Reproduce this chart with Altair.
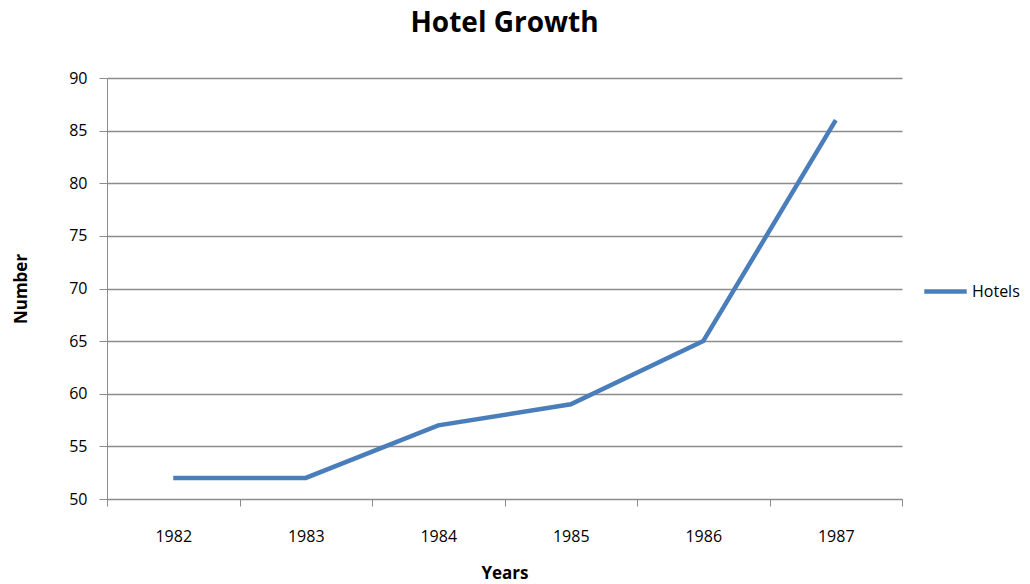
import altair as alt
import pandas as pd

years = ["1982", "1983", "1984", "1985", "1986", "1987"]
hotels = [52, 52, 57, 59, 65, 86]
series = ["Hotels"] * len(years)

df = pd.DataFrame({"Years": years, "Number": hotels, "Series": series})

FONT = "Open Sans"
GRID = "#8c8c8c"

chart = alt.Chart(df).mark_line(strokeWidth=4.5, color="#4a7ebb").encode(
    x=alt.X("Years:O",
            scale=alt.Scale(type="band", paddingInner=0, paddingOuter=0),
            axis=alt.Axis(title="Years", labelAngle=0, tickBand="extent",
                          tickSize=7, tickColor=GRID, domainColor=GRID,
                          labelPadding=22, labelFontSize=16, labelColor="#000",
                          labelFont=FONT, titleFont=FONT, titleFontSize=17,
                          titleFontWeight="bold", titleColor="#000",
                          titlePadding=21, grid=False)),
    y=alt.Y("Number:Q",
            scale=alt.Scale(domain=[50, 90], nice=False, zero=False),
            axis=alt.Axis(title="Number", values=list(range(50, 91, 5)),
                          tickSize=8, tickColor=GRID, domainColor=GRID,
                          gridColor=GRID, gridWidth=1.3,
                          labelPadding=12, labelFontSize=16, labelColor="#000",
                          labelFont=FONT, titleFont=FONT, titleFontSize=17,
                          titleFontWeight="bold", titleColor="#000",
                          titlePadding=38)),
    stroke=alt.Stroke("Series:N",
                      scale=alt.Scale(range=["#4a7ebb"]),
                      legend=alt.Legend(title=None, orient="none",
                                        legendX=815, legendY=190,
                                        symbolType="stroke", symbolSize=1800,
                                        symbolStrokeWidth=4.5,
                                        labelFont=FONT, labelFontSize=16,
                                        labelColor="#000", labelOffset=3)),
).properties(
    width=795,
    height=421,
    background="white",
    title=alt.TitleParams("Hotel Growth", font=FONT, fontSize=28,
                          fontWeight="bold", color="#000", offset=32),
    autosize=alt.AutoSizeParams(type="none"),
    padding={"left": 107, "top": 78, "right": 128, "bottom": 85},
).configure_view(stroke=None)

chart.save("out.html", embed_options={"renderer": "svg", "actions": False})
